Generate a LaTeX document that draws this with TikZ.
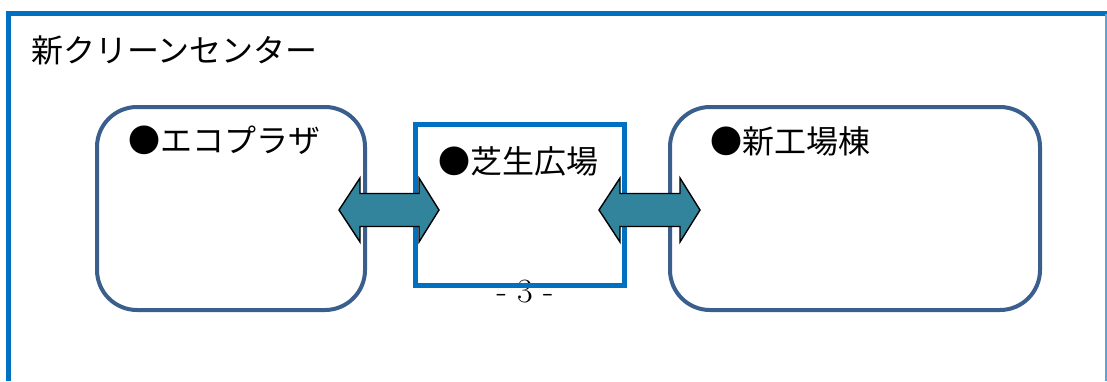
\documentclass[tikz,border=0pt]{standalone}
\usepackage{fontspec}
\newfontfamily\jp{Noto Sans CJK JP}
\definecolor{frameblue}{HTML}{0070C0}
\definecolor{boxblue}{HTML}{3A5F8C}
\definecolor{arrowteal}{HTML}{31849B}
\definecolor{edgeblue}{HTML}{5BA3DB}
\tikzset{
  roundbox/.style={draw=boxblue, line width=4pt, rounded corners=40pt, fill=white},
  centerbox/.style={draw=frameblue, line width=5pt},
  label/.style={font=\jp\fontsize{32}{32}\selectfont, anchor=west, inner sep=0pt},
  blockarrow/.style={fill=arrowteal, draw=black, line width=1.4pt, line join=miter}
}
\begin{document}
\begin{tikzpicture}[x=1pt,y=-1pt]
\useasboundingbox (0,0) rectangle (1107,381);
% outer frame
\draw[frameblue, line width=5pt] (8.5,381) -- (8.5,13.5) -- (1107,13.5);
\draw[edgeblue, line width=1.5pt] (1106,13.5) -- (1106,381);
\node[label] (title) at (31,50) {新クリーンセンター};
% boxes
\draw[roundbox] (97,107) rectangle (365,310);
\coordinate (ecoBox) at (231,208);
\draw[roundbox] (670,107) rectangle (1040,310);
\coordinate (plantBox) at (855,208);
\node[font=\fontsize{34}{34}\selectfont, anchor=base, inner sep=0pt] (page) at (525,302) {- 3 -};
\draw[centerbox] (415.5,124.5) rectangle (624.5,285.5);
\coordinate (lawnBox) at (520,205);
\node[label] (ecoLbl) at (128,140) {●エコプラザ};
\node[label] (lawnLbl) at (438,161) {●芝生広場};
\node[label] (plantLbl) at (710,141) {●新工場棟};
% double block arrows
\draw[blockarrow] (339,210) -- (360,178) -- (360,193.5) -- (419,193.5) -- (419,178) -- (439,210)
  -- (419,242) -- (419,226.5) -- (360,226.5) -- (360,242) -- cycle;
\draw[blockarrow] (599,210) -- (620,178) -- (620,193.5) -- (680,193.5) -- (680,178) -- (700,210)
  -- (680,242) -- (680,226.5) -- (620,226.5) -- (620,242) -- cycle;
\end{tikzpicture}
\end{document}
